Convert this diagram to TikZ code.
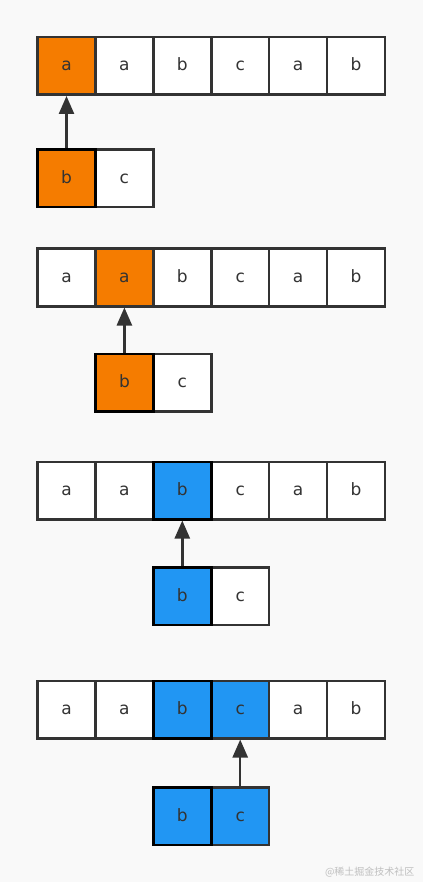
\documentclass[tikz,border=0pt]{standalone}
\usepackage{fontspec}
\setmainfont{DejaVu Sans}
\newfontfamily\cjk{Noto Sans CJK SC}
\usetikzlibrary{arrows.meta}
\definecolor{bgc}{HTML}{F9F9F9}
\definecolor{edgec}{HTML}{333333}
\definecolor{orangec}{HTML}{F57C00}
\definecolor{bluec}{HTML}{2196F3}
\definecolor{txtc}{HTML}{333333}
\tikzset{
  cell/.style={draw=edgec, line width=2.5pt, fill=white, minimum width=57.9pt, minimum height=57.5pt, inner sep=0pt, text height=11pt, text depth=1pt, text=txtc, font=\fontsize{17}{20}\selectfont},
  hiorange/.style={fill=orangec},
  hiblue/.style={fill=bluec},
  hifirst/.style={draw=black},
  ptr/.style={draw=edgec, line width=2.5pt, -{Triangle[width=15pt,length=18pt]}},
}
\begin{document}
\begin{tikzpicture}[x=1pt,y=-1pt]
\path[fill=bgc] (0,0) rectangle (423,882);
% ---------- row 1 ----------
\node[cell] (r1c2) at (124.4,66) {a};
\node[cell] (r1c3) at (182.3,66) {b};
\node[cell] (r1c4) at (240.2,66) {c};
\node[cell] (r1c5) at (298.1,66) {a};
\node[cell] (r1c6) at (356,66) {b};
\node[cell,hiorange] (r1c1) at (66.5,66) {a};
\node[cell] (p1c2) at (124.4,178.5) {c};
\node[cell,hiorange,hifirst] (p1c1) at (66.5,178.5) {b};
\draw[ptr] (p1c1.north) -- (r1c1.south);
% ---------- row 2 ----------
\node[cell] (r2c1) at (66.5,277.5) {a};
\node[cell] (r2c3) at (182.3,277.5) {b};
\node[cell] (r2c4) at (240.2,277.5) {c};
\node[cell] (r2c5) at (298.1,277.5) {a};
\node[cell] (r2c6) at (356,277.5) {b};
\node[cell,hiorange] (r2c2) at (124.4,277.5) {a};
\node[cell] (p2c2) at (182.3,382.5) {c};
\node[cell,hiorange,hifirst] (p2c1) at (124.4,382.5) {b};
\draw[ptr] (p2c1.north) -- (r2c2.south);
% ---------- row 3 ----------
\node[cell] (r3c1) at (66.5,490.5) {a};
\node[cell] (r3c2) at (124.4,490.5) {a};
\node[cell] (r3c4) at (240.2,490.5) {c};
\node[cell] (r3c5) at (298.1,490.5) {a};
\node[cell] (r3c6) at (356,490.5) {b};
\node[cell,hiblue,hifirst] (r3c3) at (182.3,490.5) {b};
\node[cell] (p3c2) at (240.2,596) {c};
\node[cell,hiblue,hifirst] (p3c1) at (182.3,596) {b};
\draw[ptr] (p3c1.north) -- (r3c3.south);
% ---------- row 4 ----------
\node[cell] (r4c1) at (66.5,709.5) {a};
\node[cell] (r4c2) at (124.4,709.5) {a};
\node[cell] (r4c5) at (298.1,709.5) {a};
\node[cell] (r4c6) at (356,709.5) {b};
\node[cell,hiblue] (r4c4) at (240.2,709.5) {c};
\node[cell,hiblue,hifirst] (r4c3) at (182.3,709.5) {b};
\node[cell,hiblue] (p4c2) at (240.2,816) {c};
\node[cell,hiblue,hifirst] (p4c1) at (182.3,816) {b};
\draw[ptr] (p4c2.north) -- (r4c4.south);
% watermark
\node[text=black!25, font=\cjk\fontsize{10}{11}\selectfont, anchor=east] (wm) at (418,872) {@稀土掘金技术社区};
\end{tikzpicture}
\end{document}
